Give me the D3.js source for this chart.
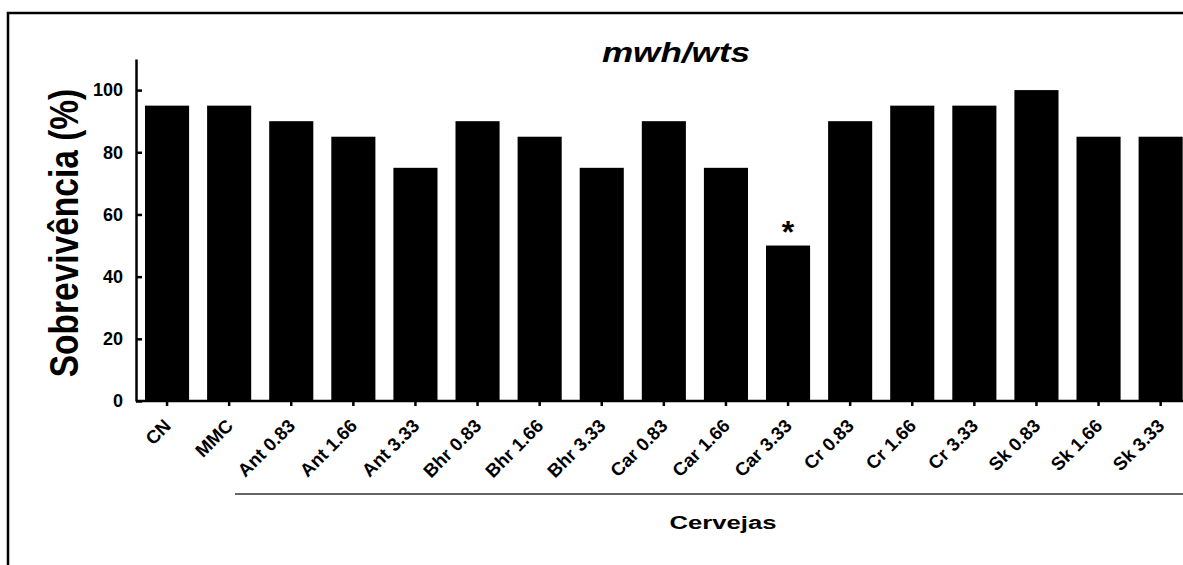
<!DOCTYPE html>
<html>
<head>
<meta charset="utf-8">
<script src="https://cdn.jsdelivr.net/npm/d3@7"></script>
<style>
  body { margin: 0; background: #fff; }
  svg { display: block; font-family: "Liberation Sans", Arial, sans-serif; }
  .tick text { font-weight: bold; fill: #000; }
</style>
</head>
<body>
<svg id="chart" width="1183" height="565"></svg>
<script>
const categories = ["CN", "MMC", "Ant 0.83", "Ant 1.66", "Ant 3.33", "Bhr 0.83", "Bhr 1.66", "Bhr 3.33",
  "Car 0.83", "Car 1.66", "Car 3.33", "Cr 0.83", "Cr 1.66", "Cr 3.33", "Sk 0.83", "Sk 1.66", "Sk 3.33"]
const survival = [95, 95, 90, 85, 75, 90, 85, 75, 90, 75, 50, 90, 95, 95, 100, 85, 85]
const significant = ["Car 3.33"]
const yTicks = [0, 20, 40, 60, 80, 100]

const svg = d3.select("#chart")

// outer frame (right and bottom edges fall outside the window)
svg.append("rect")
  .attr("x", 8).attr("y", 13)
  .attr("width", 1200).attr("height", 600)
  .attr("fill", "none")
  .attr("stroke", "#000")
  .attr("stroke-width", 2.5)

const x = d3.scaleBand()
  .domain(categories)
  .range([136, 136 + categories.length * 62.1])
  .paddingInner(0.29)
  .paddingOuter(0.145)

const y = d3.scaleLinear()
  .domain([0, 110])
  .range([401, 59])

// bars
svg.append("g")
  .selectAll("rect")
  .data(categories)
  .enter()
  .append("rect")
    .attr("x", d => x(d))
    .attr("y", (d, i) => y(survival[i]))
    .attr("width", x.bandwidth())
    .attr("height", (d, i) => y(0) - y(survival[i]))
    .attr("fill", "#000")

// y axis
const yAxis = svg.append("g")
  .attr("transform", "translate(136,0)")
  .call(d3.axisRight(y).tickValues(yTicks).tickSize(6).tickSizeOuter(0).tickFormat(d3.format("d")))
yAxis.select(".domain").attr("stroke-width", 2.5)
yAxis.selectAll(".tick line").attr("stroke-width", 2.5)
yAxis.selectAll(".tick text")
  .attr("x", -13)
  .attr("text-anchor", "end")
  .style("font-size", "18px")

// x axis
const xAxis = svg.append("g")
  .attr("transform", "translate(0,401)")
  .call(d3.axisBottom(x).tickSize(5).tickSizeOuter(0))
xAxis.select(".domain")
  .attr("d", "M136,0H1183")
  .attr("stroke-width", 2.5)
xAxis.selectAll(".tick line").attr("stroke-width", 2.5)
xAxis.selectAll(".tick text")
  .style("font-size", "18.5px")
  .attr("text-anchor", "end")
  .attr("x", 0).attr("y", 0).attr("dy", "0")
  .attr("transform", "translate(5,26) rotate(-45)")

// significance marker
svg.append("g")
  .selectAll("text")
  .data(significant)
  .enter()
  .append("text")
    .attr("x", d => x(d) + x.bandwidth() / 2)
    .attr("y", d => y(survival[categories.indexOf(d)]) - 3)
    .attr("text-anchor", "middle")
    .style("font-size", "32px")
    .style("font-weight", "bold")
    .text("*")

// bracket under the beer groups
svg.append("line")
  .attr("x1", 235).attr("x2", 1183)
  .attr("y1", 494).attr("y2", 494)
  .attr("stroke", "#333")
  .attr("stroke-width", 1.3)

svg.append("text")
  .attr("transform", "translate(723,529) scale(1.35,1)")
  .attr("text-anchor", "middle")
  .style("font-size", "19px")
  .style("font-weight", "bold")
  .text("Cervejas")

// title
svg.append("text")
  .attr("transform", "translate(676,62) scale(1.3,1)")
  .attr("text-anchor", "middle")
  .style("font-size", "27px")
  .style("font-weight", "bold")
  .style("font-style", "italic")
  .text("mwh/wts")

// y axis title
svg.append("text")
  .attr("transform", "translate(78,233) rotate(-90) scale(1,1.22)")
  .attr("text-anchor", "middle")
  .style("font-size", "33.5px")
  .style("font-weight", "bold")
  .text("Sobrevivência (%)")
</script>
</body>
</html>
